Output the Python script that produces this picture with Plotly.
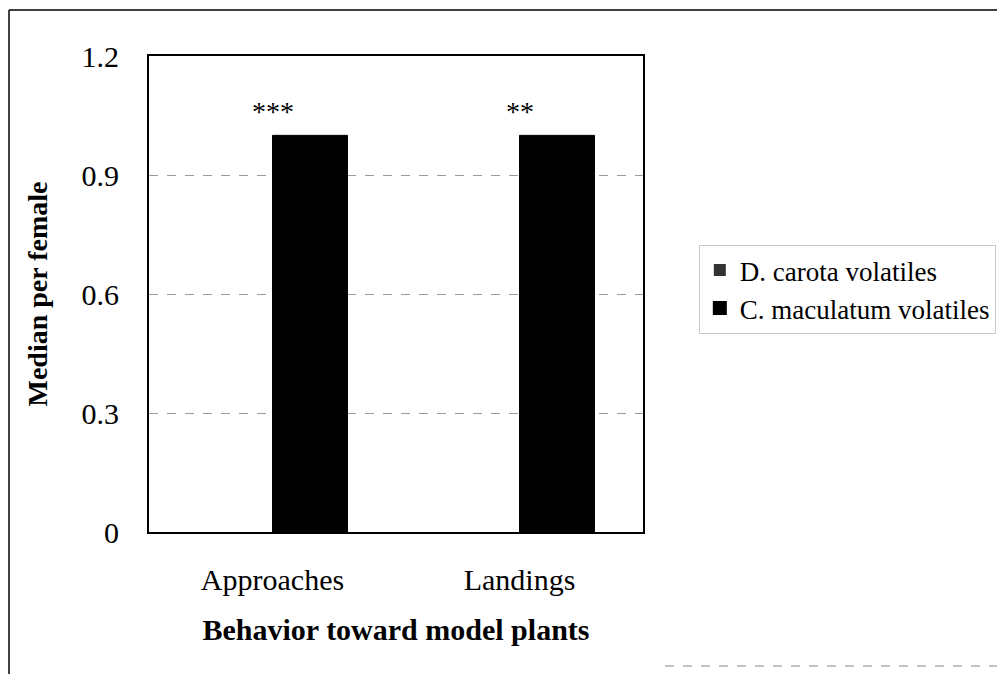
import plotly.graph_objects as go

# Data
behaviors = ["Approaches", "Landings"]
carota = [0, 0]
maculatum = [1.0, 1.0]
signif = ["***", "**"]
y_ticks = [0, 0.3, 0.6, 0.9, 1.2]
y_ticklabels = ["0", "0.3", "0.6", "0.9", "1.2"]

SERIF = "Liberation Serif, Times New Roman, serif"
BLACK = "#000000"
GRID = "#9a9a9a"

fig = go.Figure()
fig.add_trace(go.Bar(
    x=behaviors, y=carota, name="D. carota volatiles",
    marker=dict(color="#333333", line=dict(width=0))
))
fig.add_trace(go.Bar(
    x=behaviors, y=maculatum, name="C. maculatum volatiles",
    marker=dict(color=BLACK, line=dict(color=BLACK, width=1))
))

# significance stars above each group
annotations = [
    dict(x=b, y=v + 0.06, xref="x", yref="y", text=s, showarrow=False,
         font=dict(family=SERIF, size=28, color=BLACK), yanchor="middle")
    for b, v, s in zip(behaviors, maculatum, signif)
]

# outer chart frame (paper coordinates relative to plot area)
shapes = [
    dict(type="line", xref="paper", yref="paper", x0=-0.2834, x1=1.733, y0=1.0966, y1=1.0966,
         line=dict(color=BLACK, width=1.5)),
    dict(type="line", xref="paper", yref="paper", x0=-0.2834, x1=-0.2834, y0=1.0966, y1=-0.30,
         line=dict(color=BLACK, width=1.5)),
    dict(type="line", xref="paper", yref="paper", x0=1.0445, x1=1.733, y0=-0.2815, y1=-0.2815,
         line=dict(color="#b0b0b0", width=1.5, dash="dash")),
]

fig.update_layout(
    width=1005, height=674,
    margin=dict(l=141, r=370, t=48, b=150, autoexpand=False),
    plot_bgcolor="white", paper_bgcolor="white",
    barmode="group", bargap=0.393, bargroupgap=0,
    font=dict(family=SERIF, color=BLACK),
    xaxis=dict(
        showline=True, linecolor=BLACK, linewidth=2, mirror=True,
        ticks="", ticklabelstandoff=20,
        tickfont=dict(family=SERIF, size=30, color=BLACK),
        title=dict(text="<b>Behavior toward model plants</b>",
                   font=dict(family=SERIF, size=30, color=BLACK), standoff=24),
    ),
    yaxis=dict(
        range=[0, 1.2], tickvals=y_ticks, ticktext=y_ticklabels,
        showline=True, linecolor=BLACK, linewidth=2, mirror=True,
        showgrid=True, gridcolor=GRID, gridwidth=1, griddash="dash",
        zeroline=False, ticks="", ticklen=0, ticklabelstandoff=22,
        tickfont=dict(family=SERIF, size=30, color=BLACK),
        title=dict(text="<b>Median per female</b>",
                   font=dict(family=SERIF, size=28, color=BLACK), standoff=26),
    ),
    legend=dict(
        x=1.113, y=0.603, xanchor="left", yanchor="top",
        font=dict(family=SERIF, size=27, color=BLACK),
        bordercolor="#c8c8c8", borderwidth=1, bgcolor="white",
        itemsizing="constant", tracegroupgap=0, itemwidth=30,
    ),
    annotations=annotations,
    shapes=shapes,
)

fig.write_html("out.html")
